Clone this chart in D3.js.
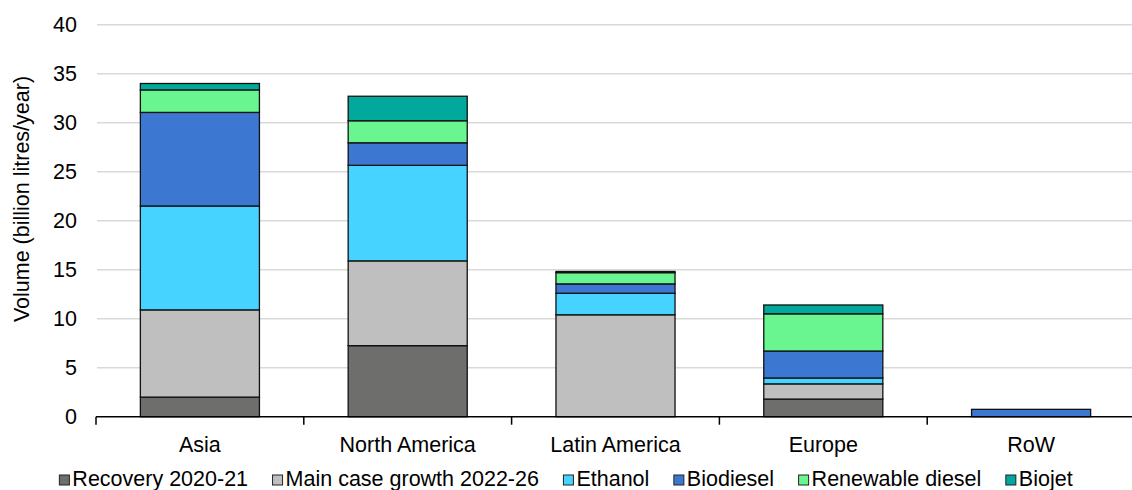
<!DOCTYPE html>
<html>
<head>
<meta charset="utf-8">
<script src="https://cdn.jsdelivr.net/npm/d3@7"></script>
<style>
  html, body { margin: 0; padding: 0; background: #fff; }
  svg text { font-family: "Liberation Sans", Arial, sans-serif; fill: #000; }
</style>
</head>
<body>
<svg id="chart" width="1132" height="490"></svg>
<script>
const categories = ["Asia", "North America", "Latin America", "Europe", "RoW"];
const seriesNames = ["Recovery 2020-21", "Main case growth 2022-26", "Ethanol", "Biodiesel", "Renewable diesel", "Biojet"];
const recovery   = [2.0, 7.25, 0.0, 1.8, 0.0];
const mainGrowth = [8.9, 8.65, 10.4, 1.55, 0.0];
const ethanol    = [10.6, 9.75, 2.2, 0.6, 0.0];
const biodiesel  = [9.55, 2.3, 0.95, 2.75, 0.75];
const renewable  = [2.3, 2.25, 1.15, 3.8, 0.0];
const biojet     = [0.65, 2.5, 0.12, 0.9, 0.0];
const yTicks = [0, 5, 10, 15, 20, 25, 30, 35, 40];
const colors = ["#6e6f6d", "#bfbfbf", "#47d3ff", "#3c78d2", "#69f58f", "#00a99c"];

const seriesValues = [recovery, mainGrowth, ethanol, biodiesel, renewable, biojet];
const rows = categories.map((c, i) => {
  const r = { cat: c };
  seriesNames.forEach((s, j) => r[s] = seriesValues[j][i]);
  return r;
});

const svg = d3.select("#chart");
const W = 1132, H = 490;
const m = { left: 96, right: -3, top: 24.7, bottom: 490 - 416.7 };
const x = d3.scaleBand().domain(categories).range([m.left, W - m.right]).paddingInner(0).paddingOuter(0);
const y = d3.scaleLinear().domain([0, 40]).range([H - m.bottom, m.top]);
const fs = 21.5;

// gridlines
svg.append("g").selectAll("line").data(yTicks.filter(d => d > 0)).join("line")
  .attr("x1", m.left + 1).attr("x2", W)
  .attr("y1", d => y(d)).attr("y2", d => y(d))
  .attr("stroke", "#d9d9d9").attr("stroke-width", 1.5);

// y tick labels
svg.append("g").selectAll("text").data(yTicks).join("text")
  .attr("x", 77).attr("y", d => y(d)).attr("dy", "0.36em")
  .attr("text-anchor", "end").attr("font-size", fs)
  .text(d => d);

// y label
svg.append("text")
  .attr("transform", `translate(29,199) rotate(-90)`)
  .attr("text-anchor", "middle").attr("font-size", fs)
  .text("Volume (billion litres/year)");

// stacked bars
const stack = d3.stack().keys(seriesNames)(rows);
const barFrac = 0.573;
const bw = x.bandwidth() * barFrac;
const off = (x.bandwidth() - bw) / 2;
svg.append("g").selectAll("g").data(stack).join("g")
  .attr("fill", (d, i) => colors[i])
  .selectAll("rect").data(d => d.filter(p => p[1] - p[0] > 0)).join("rect")
  .attr("x", d => x(d.data.cat) + off)
  .attr("width", bw)
  .attr("y", d => y(d[1]))
  .attr("height", d => y(d[0]) - y(d[1]))
  .attr("stroke", "#111").attr("stroke-width", 1.3);

// x axis
const xAxis = svg.append("g");
xAxis.append("line").attr("x1", m.left).attr("x2", W).attr("y1", y(0)).attr("y2", y(0))
  .attr("stroke", "#000").attr("stroke-width", 1.5);
const bounds = categories.map(c => x(c));
xAxis.selectAll("line.tick").data(bounds).join("line").attr("class", "tick")
  .attr("x1", d => d).attr("x2", d => d).attr("y1", y(0)).attr("y2", y(0) + 8)
  .attr("stroke", "#000").attr("stroke-width", 1.5);
xAxis.selectAll("text").data(categories).join("text")
  .attr("x", d => x(d) + x.bandwidth() / 2).attr("y", 452)
  .attr("text-anchor", "middle").attr("font-size", fs)
  .text(d => d);

// legend
const lg = svg.append("g");
const items = lg.selectAll("g").data(seriesNames).join("g");
items.append("rect").attr("width", 10).attr("height", 10).attr("y", 475)
  .attr("fill", (d, i) => colors[i]).attr("stroke", "#222").attr("stroke-width", 1);
items.append("text").attr("x", 13).attr("y", 486).attr("font-size", fs).text(d => d);
let cx = 0; const gap = 24.5; const pos = [];
items.each(function () {
  const w = 13 + d3.select(this).select("text").node().getComputedTextLength();
  pos.push(cx); cx += w + gap;
});
const total = cx - gap;
const start = (W - total) / 2;
items.attr("transform", (d, i) => `translate(${start + pos[i]},0)`);
</script>
</body>
</html>
